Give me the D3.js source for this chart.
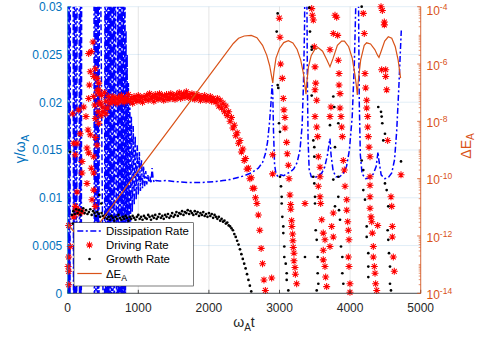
<!DOCTYPE html>
<html>
<head>
<meta charset="utf-8">
<script src="https://cdn.jsdelivr.net/npm/d3@7"></script>
<style>
  body { margin: 0; background: #fff; }
  svg { font-family: "Liberation Sans", Arial, Helvetica, sans-serif; }
</style>
</head>
<body>
<svg id="chart" width="478" height="343"></svg>
<script>
// ---------------- data ----------------
let xTicks = [0, 1000, 2000, 3000, 4000, 5000];
let yTicks = [0, 0.005, 0.01, 0.015, 0.02, 0.025, 0.03];
let yRTicks = [1e-14, 1e-12, 1e-10, 1e-8, 1e-6, 1e-4];
let yRTickExp = ["-14", "-12", "-10", "-8", "-6", "-4"];
let legendNames = ["Dissipation Rate", "Driving Rate", "Growth Rate", "\u0394E"];

// dissipation rate: early burst swings far outside the axis range
let dissT = [0, 10, 20, 30, 40, 75, 85, 95, 105, 115, 125, 135, 160, 170, 180, 190, 200,
  370, 380, 390, 400, 410, 420, 430, 440, 450,
  520, 530, 540, 550, 560, 570, 580, 590, 600, 610, 620, 630, 640, 650, 660, 670,
  700, 710, 720, 730, 740, 750, 760, 770, 780, 790,
  800, 810, 818, 826, 834, 842, 850, 860, 870, 880, 890, 902, 915, 928, 942, 956, 970, 985, 1000, 1015,
  1030, 1045, 1060, 1075, 1090, 1105, 1120, 1135, 1150, 1165, 1180, 1195, 1210, 1225, 1250, 1300, 1400,
  1500, 1600, 1700, 1800, 1900, 2000, 2100, 2200, 2300, 2400, 2500, 2600, 2700, 2760, 2800, 2830, 2860,
  2880, 2895, 2905, 2915, 2930, 2950, 2980, 3020, 3060, 3100, 3150, 3200, 3250, 3290, 3320, 3340, 3355,
  3365, 3375, 3385, 3395, 3405, 3420, 3450, 3500, 3550, 3600, 3640, 3680, 3705, 3715, 3730, 3760, 3800,
  3850, 3900, 3950, 3990, 4030, 4060, 4080, 4095, 4110, 4120, 4130, 4145, 4170, 4220, 4280, 4330, 4370,
  4395, 4410, 4440, 4490, 4540, 4590, 4630, 4660, 4690, 4710, 4725];
let dissV = [0.05, -0.02, 0.05, -0.02, 0.05, 0.05, -0.02, 0.05, -0.02, 0.05, -0.02, 0.05, 0.05, -0.02, 0.05, -0.02, 0.05,
  0.05, -0.02, 0.05, -0.02, 0.05, -0.02, 0.05, -0.02, 0.05,
  -0.02, 0.05, -0.02, 0.05, -0.02, 0.05, -0.02, 0.05, -0.02, 0.05, -0.02, 0.05, -0.02, 0.05, -0.02, 0.05,
  -0.02, 0.05, -0.02, 0.05, -0.02, 0.05, -0.02, 0.05, -0.02, 0.05,
  -0.01, 0.04, 0.0, 0.0275, 0.002, 0.025, 0.004, 0.022, 0.006, 0.020, 0.0075, 0.0185, 0.0085, 0.0175, 0.0092,
  0.0165, 0.0098, 0.0155, 0.0103, 0.0148, 0.0107, 0.014, 0.011, 0.0133, 0.0112, 0.0128, 0.0114, 0.0124, 0.0116,
  0.0122, 0.0115, 0.0131, 0.0120, 0.0116, 0.0118, 0.01175, 0.0118, 0.0117, 0.01165, 0.0116, 0.0116, 0.0116,
  0.01165, 0.0117, 0.0118, 0.0119, 0.0121, 0.0123, 0.0126, 0.0131, 0.0137, 0.0146, 0.0158, 0.0180, 0.0200,
  0.0218, 0.0208, 0.0170, 0.0135, 0.0125, 0.0122, 0.0124, 0.0123, 0.0125, 0.0127, 0.0130, 0.0137, 0.0150,
  0.0175, 0.0220, 0.028, 0.040, 0.05, 0.035, 0.022, 0.016, 0.0130, 0.0122, 0.0121, 0.0123, 0.0126, 0.0132,
  0.0145, 0.0158, 0.0162, 0.0145, 0.0128, 0.0122, 0.0122, 0.0125, 0.0133, 0.0150, 0.0185, 0.0240, 0.030,
  0.045, 0.045, 0.030, 0.020, 0.0145, 0.0125, 0.0120, 0.0121, 0.0125, 0.0133, 0.0148, 0.0138, 0.0124, 0.0120,
  0.0121, 0.0126, 0.0140, 0.0170, 0.0215, 0.0250, 0.0275];

// driving rate, dense band sampled every 20 from t = 440
let driveBandT0 = 440, driveBandDt = 20;
let driveBand = [0.0213, 0.0198, 0.0207, 0.0190, 0.0210, 0.0201, 0.0194, 0.0206, 0.0199,
  0.0202, 0.0206, 0.0200, 0.0204, 0.0199, 0.0205, 0.0201, 0.0207, 0.0203, 0.0200, 0.0205, 0.0202, 0.0208,
  0.0201, 0.0204, 0.0199, 0.0206, 0.0203, 0.0201, 0.0207, 0.0202, 0.0205, 0.0200, 0.0206, 0.0203,
  0.0207, 0.0202, 0.0209, 0.0204, 0.0206, 0.0201, 0.0208, 0.0205, 0.0203, 0.0209, 0.0204, 0.0207, 0.0202,
  0.0206, 0.0208, 0.0203, 0.0205, 0.0209, 0.0204, 0.0207, 0.0203, 0.0208, 0.0205, 0.0210, 0.0204, 0.0207,
  0.0209, 0.0205, 0.0211, 0.0206, 0.0208, 0.0204, 0.0209, 0.0206, 0.0203, 0.0208, 0.0205, 0.0207, 0.0202, 0.0206,
  0.0204, 0.0207, 0.0202, 0.0205, 0.0203, 0.0206, 0.0201, 0.0204, 0.0202, 0.0200,
  0.0204, 0.0196, 0.0202, 0.0194, 0.0199, 0.0190, 0.0196, 0.0186, 0.0190, 0.0180, 0.0184, 0.0173, 0.0176,
  0.0165, 0.0168, 0.0157, 0.0160, 0.0148, 0.0151, 0.0139, 0.0141, 0.0130, 0.0131, 0.0120, 0.0121, 0.0110,
  0.0110, 0.0100, 0.0094, 0.0082, 0.0066, 0.0047, 0.0031, 0.0014, 0.0003];
// driving rate, scattered points [t, value]
let driveScatter = [[358, .0263], [297, .0251], [334, .0253], [320, .0232], [391, .0235], [368, .0227], [415, .0225],
  [306, .0218], [439, .0220], [297, .0204], [368, .0206], [227, .0195], [156, .0192], [71, .0188], [259, .0185],
  [382, .0197], [391, .0183], [439, .0178], [178, .0167], [288, .0171], [320, .0166], [391, .0163], [132, .0157],
  [273, .0152], [415, .0155], [85, .0157], [108, .0145], [203, .0138], [297, .0147], [368, .0143], [203, .0126],
  [334, .0131], [368, .0126], [273, .0115], [132, .0106], [368, .0108], [344, .0098], [391, .0091], [108, .0091],
  [156, .0087], [203, .0085], [85, .0080], [14, .0071], [37, .0049], [14, .0038], [5, .0028], [14, .0023], [14, .0009],
  [120, .0088], [150, .0084], [180, .0086], [430, .0190], [470, .0186], [500, .0195], [540, .0188], [455, .0200],
  [420, .0212], [445, .0209],
  [2889, .0016], [2903, .0145], [2903, .0125],
  [2997, .0288], [3007, .0268], [3016, .0240], [3040, .0225], [3054, .0204], [3063, .0192], [3077, .0184],
  [3077, .0173], [3101, .0158], [3110, .0146], [3125, .0134], [3135, .0120], [3148, .0103], [3158, .0093],
  [3172, .0076], [3186, .0062], [3195, .0048], [3205, .0034], [3219, .0027], [3243, .0010], [3160, .0088],
  [3175, .0070], [3190, .0055], [3205, .0042], [3225, .0020], [3361, .0094],
  [3456, .0298], [3465, .0291], [3479, .0286], [3493, .0258], [3503, .0237], [3513, .0220], [3503, .0213],
  [3527, .0202], [3503, .0185], [3527, .0174], [3541, .0164], [3550, .0143], [3574, .0132], [3574, .0122],
  [3550, .0112], [3574, .0101], [3583, .0094], [3598, .0077], [3620, .0063], [3644, .0056], [3620, .0045],
  [3620, .0035], [3644, .0028], [3654, .0017], [3668, .0007], [3762, .0084], [3715, .0049], [3739, .0070],
  [3762, .0059], [3786, .0291], [3762, .0272], [3715, .0255], [3729, .0195], [3715, .0185],
  [3810, .0289], [3824, .0270], [3833, .0244], [3843, .0230], [3843, .0218], [3857, .0209], [3857, .0194],
  [3871, .0185], [3881, .0174], [3890, .0164], [3904, .0139], [3918, .0129], [3928, .0112], [3952, .0098],
  [3952, .0087], [3966, .0075], [3975, .0066], [3984, .0056], [3975, .0038], [3984, .0028], [3998, .0010],
  [3998, .0001],
  [4187, .0293], [4201, .0272], [4211, .0230], [4221, .0215], [4235, .0202], [4235, .0194], [4249, .0185],
  [4249, .0174], [4258, .0164], [4268, .0153], [4282, .0143], [4282, .0122], [4282, .0113], [4282, .0101],
  [4282, .0089], [4296, .0080], [4306, .0075], [4315, .0063], [4329, .0049], [4329, .0038], [4343, .0028],
  [4353, .0021], [4362, .0010], [4377, .0003], [4391, .0071],
  [4438, .0300], [4457, .0296], [4485, .0284], [4485, .0281], [4447, .0234], [4504, .0234], [4504, .0227],
  [4518, .0213], [4532, .0160],
  [4579, .0101], [4589, .0091], [4598, .0070], [4598, .0059], [4612, .0038], [4626, .0023], [4721, .0124]];

// growth rate, dense band sampled every 20 from t = 80
let growBandT0 = 80, growBandDt = 20;
let growBand = [.0086, .0083, .0088, .0084, .0087, .0082, .0086, .0089, .0084, .0087, .0083, .0085, .0088, .0082,
  .0086, .0084, .0081, .0085, .0083, .0080, .0084, .0081,
  .0079, .0082, .0078, .0080, .0077, .0081, .0079, .0076, .0080, .0078, .0082, .0079, .0077, .0080, .0078, .0081,
  .0079, .0076, .0080, .0078, .0081, .0079, .0077, .0080, .0082, .0078, .0080, .0077, .0081, .0079, .0078, .0082,
  .0080, .0077, .0081, .0079, .0082, .0078, .0080, .0083, .0079, .0081, .0078, .0082, .0080, .0083, .0079, .0081,
  .0084, .0080,
  .0082, .0085, .0081, .0084, .0083, .0086, .0082, .0085, .0084, .0087, .0083, .0086, .0084, .0082, .0086, .0083,
  .0085, .0081, .0084, .0082, .0085, .0081, .0083, .0080, .0084, .0081, .0083, .0079, .0082, .0080,
  .0078, .0080, .0076, .0078, .0075, .0076, .0073, .0074, .0071, .0070, .0068, .0066, .0062, .0059, .0055, .0051,
  .0046, .0041, .0036, .0031, .0026, .0020, .0014, .0008, .0002];
let growScatter = [[33, .0148], [448, .0103], [476, .0094], [71, .0073], [60, .0082],
  [2960, .0274], [2974, .0218], [2983, .0215], [2993, .0178], [3007, .0169], [3007, .0122], [3021, .0112],
  [3031, .0101], [3031, .0094], [3040, .0080], [3054, .0070], [3054, .0063], [3068, .0049], [3068, .0038],
  [3088, .0031], [3102, .0021], [3102, .0014], [3125, .0003], [3361, .0038], [3422, .0299], [3456, .0258],
  [3456, .0207], [3479, .0160], [3493, .0153], [3493, .0143], [3479, .0122], [3493, .0115], [3503, .0101],
  [3503, .0094], [3513, .0066], [3527, .0056], [3541, .0038], [3541, .0021], [3550, .0010], [3527, .0003],
  [3762, .0206], [3776, .0195], [3762, .0119], [3786, .0091], [3833, .0178], [3833, .0122], [3833, .0101],
  [3843, .0087], [3857, .0077], [3871, .0049], [3890, .0038], [3890, .0021], [3904, .0010], [4164, .0300],
  [4164, .0139], [4187, .0129], [4187, .0108], [4211, .0098], [4235, .0070], [4235, .0059], [4258, .0042],
  [4258, .0028], [4258, .0017], [4399, .0195], [4438, .0190], [4447, .0185], [4456, .0178], [4494, .0167],
  [4470, .0160], [4494, .0115], [4518, .0108], [4541, .0091], [4532, .0066], [4541, .0056], [4551, .0042],
  [4565, .0028], [4565, .0010], [4579, .0003], [4721, .0138], [2974, .0293], [3432, .0274], [3456, .0255],
  [3715, .0176], [3786, .0153]];

// Delta E_A (right, log axis)
let dET = [0, 90, 180, 260, 340, 458, 1000, 1500, 2000, 2346, 2420, 2500, 2600, 2680, 2760, 2820, 2860, 2890,
  2905, 2920, 2950, 3000, 3060, 3125, 3190, 3250, 3300, 3340, 3365, 3375, 3385, 3410, 3450, 3500, 3550, 3610,
  3670, 3715, 3760, 3820, 3880, 3920, 3980, 4030, 4070, 4095, 4102, 4115, 4150, 4200, 4234, 4290, 4350, 4390,
  4409, 4440, 4490, 4541, 4590, 4640, 4680, 4715];
let dEV = [2.6e-12, 1.4e-12, 6.3e-13, 5.0e-13, 1.2e-12, 3.0e-12, 1.9e-10, 8.3e-9, 3.8e-7, 5.2e-6, 7.9e-6, 9.5e-6,
  1.0e-5, 8.3e-6, 4.5e-6, 2.0e-6, 8.9e-7, 3.5e-7, 2.2e-7, 5.0e-7, 1.6e-6, 3.5e-6, 5.6e-6, 6.5e-6, 5.4e-6,
  3.2e-6, 1.4e-6, 4.5e-7, 1.4e-7, 8.9e-8, 2.0e-7, 7.9e-7, 2.0e-6, 3.2e-6, 3.7e-6, 2.8e-6, 1.4e-6, 8.1e-7,
  1.6e-6, 4.5e-6, 6.3e-6, 6.3e-6, 4.0e-6, 1.6e-6, 4.0e-7, 1.3e-7, 8.3e-8, 2.5e-7, 1.4e-6, 4.5e-6, 5.5e-6,
  5.0e-6, 3.2e-6, 2.0e-6, 1.7e-6, 2.8e-6, 6.3e-6, 8.9e-6, 7.9e-6, 4.0e-6, 1.4e-6, 3.2e-7];

// ---------------- drawing ----------------
const leftColor = "#0072BD", rightColor = "#D95319", axisColor = "#262626";
const svg = d3.select("#chart");

const x = d3.scaleLinear().domain([0, 5000]).range([67.7, 420.7]);
const yL = d3.scaleLinear().domain([0, 0.03]).range([293.3, 6.7]);
const yR = d3.scaleLog().domain([1e-14, 1e-4]).range([293.3, 6.7]);

svg.append("defs").append("clipPath").attr("id", "plotClip")
  .append("rect").attr("x", 67.7).attr("y", 6.7).attr("width", 353).attr("height", 286.6);

// grid
svg.append("g").selectAll("line").data(xTicks).enter().append("line")
  .attr("x1", d => x(d)).attr("x2", d => x(d)).attr("y1", 6.7).attr("y2", 293.3)
  .attr("stroke", axisColor).attr("stroke-opacity", 0.15).attr("stroke-width", 0.8);
svg.append("g").selectAll("line").data(yTicks).enter().append("line")
  .attr("x1", 67.7).attr("x2", 420.7).attr("y1", d => yL(d)).attr("y2", d => yL(d))
  .attr("stroke", leftColor).attr("stroke-opacity", 0.15).attr("stroke-width", 0.8);

// asterisk marker like matlab '*'
function asterisk(r) {
  let k = r * 0.7;
  return `M${-r},0H${r}M0,${-r}V${r}M${-k},${-k}L${k},${k}M${-k},${k}L${k},${-k}`;
}

const plot = svg.append("g");

// dissipation rate
let dissData = dissT.map((t, i) => [t, dissV[i]]);
plot.append("path").datum(dissData)
  .attr("clip-path", "url(#plotClip)")
  .attr("d", d3.line().x(d => x(d[0])).y(d => yL(d[1])))
  .attr("fill", "none").attr("stroke", "#0000FF").attr("stroke-width", 1.5)
  .attr("stroke-dasharray", "6,2.5,2,2.5");

// driving rate
let driveData = driveBand.map((v, i) => [driveBandT0 + i * driveBandDt, v]).concat(driveScatter)
  .filter(d => d[1] >= 0 && d[1] <= 0.03);
plot.append("g").selectAll("path").data(driveData).enter().append("path")
  .attr("transform", d => `translate(${x(d[0])},${yL(d[1])})`)
  .attr("d", asterisk(3.5))
  .attr("fill", "none").attr("stroke", "#FF0000").attr("stroke-width", 1.05);

// growth rate
let growData = growBand.map((v, i) => [growBandT0 + i * growBandDt, v]).concat(growScatter)
  .filter(d => d[1] >= 0 && d[1] <= 0.03);
plot.append("g").selectAll("circle").data(growData).enter().append("circle")
  .attr("cx", d => x(d[0])).attr("cy", d => yL(d[1])).attr("r", 1.35)
  .attr("fill", "#000");

// delta E
let dEData = dET.map((t, i) => [t, dEV[i]]);
plot.append("path").datum(dEData)
  .attr("clip-path", "url(#plotClip)")
  .attr("d", d3.line().x(d => x(d[0])).y(d => yR(d[1])))
  .attr("fill", "none").attr("stroke", rightColor).attr("stroke-width", 1.2);

// axes
const ax = svg.append("g");
ax.append("line").attr("x1", 67.7).attr("x2", 420.7).attr("y1", 293.3).attr("y2", 293.3)
  .attr("stroke", axisColor).attr("stroke-width", 0.8);
ax.selectAll(".xt").data(xTicks).enter().append("line")
  .attr("x1", d => x(d)).attr("x2", d => x(d)).attr("y1", 293.3).attr("y2", 289.8)
  .attr("stroke", axisColor).attr("stroke-width", 0.8);
ax.selectAll(".xl").data(xTicks).enter().append("text")
  .attr("x", d => x(d)).attr("y", 311.5).attr("text-anchor", "middle")
  .attr("font-size", 12).attr("fill", axisColor).text(d => d);

ax.append("line").attr("x1", 67.7).attr("x2", 67.7).attr("y1", 6.7).attr("y2", 293.3)
  .attr("stroke", leftColor).attr("stroke-width", 0.8);
ax.selectAll(".yt").data(yTicks).enter().append("line")
  .attr("x1", 67.7).attr("x2", 71.2).attr("y1", d => yL(d)).attr("y2", d => yL(d))
  .attr("stroke", leftColor).attr("stroke-width", 0.8);
ax.selectAll(".yl").data(yTicks).enter().append("text")
  .attr("x", 62.3).attr("y", d => yL(d) + 4.3).attr("text-anchor", "end")
  .attr("font-size", 12).attr("fill", leftColor).text(d => d3.format("~g")(d));

ax.append("line").attr("x1", 420.7).attr("x2", 420.7).attr("y1", 6.7).attr("y2", 293.3)
  .attr("stroke", rightColor).attr("stroke-width", 0.8);
let minor = [];
for (let e = -14; e < -4; e++) for (let m = 2; m <= 9; m++) minor.push(m * Math.pow(10, e));
for (let e = -13; e < -4; e += 2) minor.push(Math.pow(10, e));
ax.selectAll(".rm").data(minor).enter().append("line")
  .attr("x1", 420.7).attr("x2", 418.7).attr("y1", d => yR(d)).attr("y2", d => yR(d))
  .attr("stroke", rightColor).attr("stroke-width", 0.6);
ax.selectAll(".rt").data(yRTicks).enter().append("line")
  .attr("x1", 420.7).attr("x2", 417.2).attr("y1", d => yR(d)).attr("y2", d => yR(d))
  .attr("stroke", rightColor).attr("stroke-width", 0.8);
let rl = ax.selectAll(".rl").data(yRTicks).enter().append("text")
  .attr("x", 426.5).attr("y", (d, i) => yR(d) + (i === yRTicks.length - 1 ? 8 : 5.8))
  .attr("font-size", 12).attr("fill", rightColor);
rl.append("tspan").text("10");
rl.append("tspan").attr("dy", -5).attr("font-size", 8.5).text((d, i) => yRTickExp[i]);

// axis labels
let xl = svg.append("text").attr("x", 244).attr("y", 327).attr("text-anchor", "middle")
  .attr("font-size", 14).attr("fill", axisColor);
xl.append("tspan").text("\u03c9");
xl.append("tspan").attr("dy", 3.5).attr("font-size", 10).text("A");
xl.append("tspan").attr("dy", -3.5).text("t");

let ylab = svg.append("text").attr("transform", "translate(25,149) rotate(-90)")
  .attr("text-anchor", "middle").attr("font-size", 14).attr("fill", leftColor);
ylab.append("tspan").text("\u03b3/\u03c9");
ylab.append("tspan").attr("dy", 3.5).attr("font-size", 10).text("A");

let yrlab = svg.append("text").attr("transform", "translate(471,146) rotate(-90)")
  .attr("text-anchor", "middle").attr("font-size", 14).attr("fill", rightColor);
yrlab.append("tspan").text("\u0394E");
yrlab.append("tspan").attr("dy", 3).attr("font-size", 10).text("A");

// legend
const lg = svg.append("g");
lg.append("rect").attr("x", 74).attr("y", 222.7).attr("width", 119.3).attr("height", 63.3)
  .attr("fill", "#fff").attr("stroke", axisColor).attr("stroke-width", 0.6);
let rowY = [231, 245, 259, 273.5];
lg.append("line").attr("x1", 77.3).attr("x2", 101.7).attr("y1", rowY[0]).attr("y2", rowY[0])
  .attr("stroke", "#0000FF").attr("stroke-width", 1.5).attr("stroke-dasharray", "6,2.5,2,2.5");
lg.append("path").attr("transform", `translate(89.5,${rowY[1]})`).attr("d", asterisk(3.5))
  .attr("fill", "none").attr("stroke", "#FF0000").attr("stroke-width", 1.05);
lg.append("circle").attr("cx", 89.5).attr("cy", rowY[2]).attr("r", 1.35).attr("fill", "#000");
lg.append("line").attr("x1", 77.3).attr("x2", 101.7).attr("y1", rowY[3]).attr("y2", rowY[3])
  .attr("stroke", rightColor).attr("stroke-width", 1.2);
legendNames.forEach((n, i) => {
  let t = lg.append("text").attr("x", 106).attr("y", rowY[i] + 4).attr("font-size", 11.4).attr("fill", "#000");
  t.append("tspan").text(n);
  if (i === 3) t.append("tspan").attr("dy", 3).attr("font-size", 8.5).text("A");
});
</script>
</body>
</html>
